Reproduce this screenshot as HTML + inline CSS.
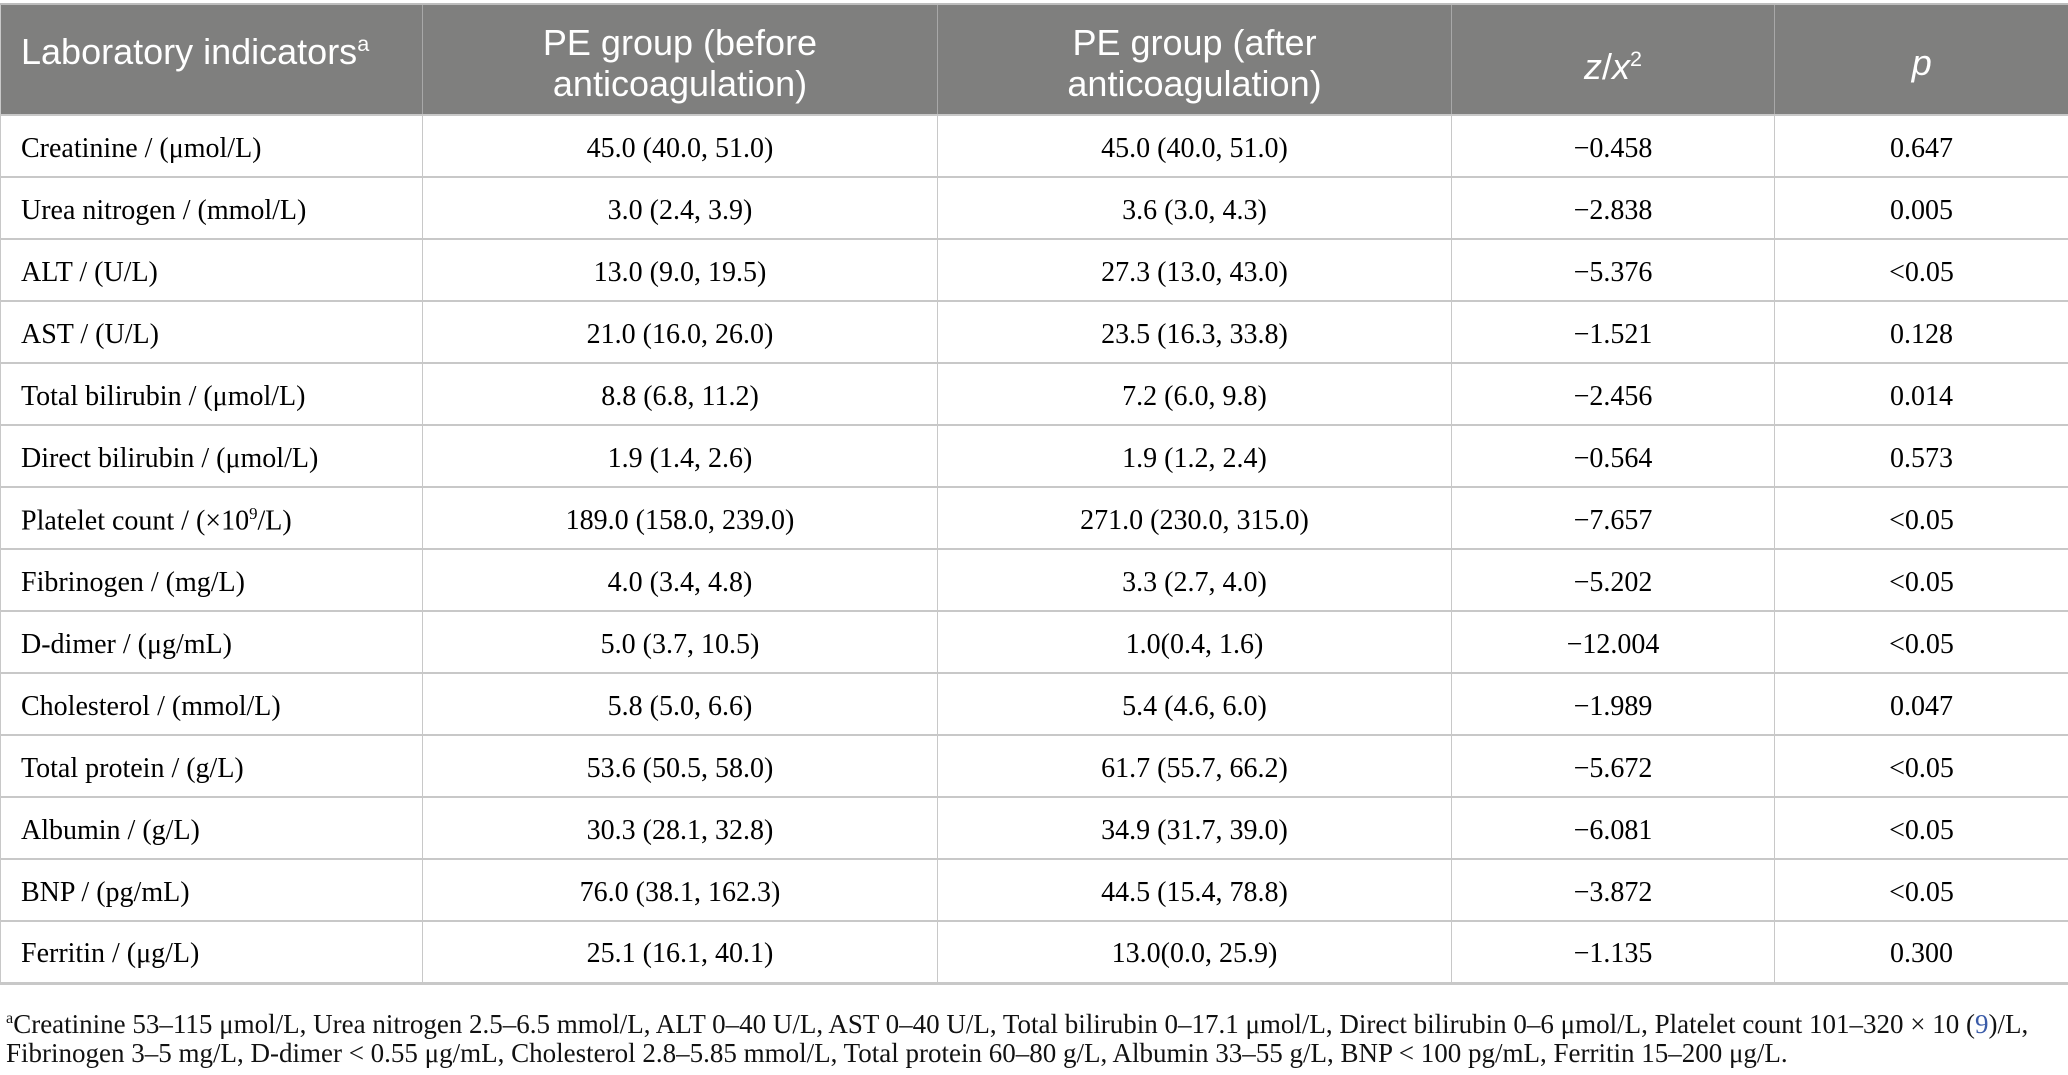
<!DOCTYPE html>
<html><head><meta charset="utf-8"><style>
body{margin:0;background:#fff;width:2068px;height:1075px;overflow:hidden;position:relative}
table{position:absolute;left:0;top:3px;width:2068px;border-collapse:collapse;table-layout:fixed}
th{box-sizing:border-box;background:#7f7f7e;color:#fff;font-family:"Liberation Sans",sans-serif;font-weight:normal;font-size:36px;line-height:41px;height:111px;border-left:1px solid #a8a8a8;border-top:2px solid #bdbdbd;padding:6px 6px 0;text-align:center}
th:first-child{text-align:left;padding-left:20px;vertical-align:top;padding-top:18px;border-left:1px solid #c8c8c8}
td{box-sizing:border-box;font-family:"Liberation Serif",serif;font-size:28px;height:62px;border:1px solid #c8c8c8;border-top:2px solid #c8c8c8;text-align:center;padding:5px 0 0}
td:first-child{text-align:left;padding-left:20px}
tr:last-child td{border-bottom:3px solid #c8c8c8}
sup{font-size:60%}
.fn{position:absolute;left:6px;top:1004px;font-family:"Liberation Serif",serif;font-size:27px;line-height:29px;color:#111;width:2060px;white-space:nowrap}
.blue{color:#3a5ba8}
</style></head><body>
<table>
<colgroup><col style="width:422px"><col style="width:515px"><col style="width:514px"><col style="width:323px"><col style="width:294px"></colgroup>
<tr><th>Laboratory indicators<sup>a</sup></th><th>PE group (before<br>anticoagulation)</th><th>PE group (after<br>anticoagulation)</th><th><i>z</i>/<i>x</i><sup>2</sup></th><th><i>p</i></th></tr>
<tr><td>Creatinine / (μmol/L)</td><td>45.0 (40.0, 51.0)</td><td>45.0 (40.0, 51.0)</td><td>−0.458</td><td>0.647</td></tr>
<tr><td>Urea nitrogen / (mmol/L)</td><td>3.0 (2.4, 3.9)</td><td>3.6 (3.0, 4.3)</td><td>−2.838</td><td>0.005</td></tr>
<tr><td>ALT / (U/L)</td><td>13.0 (9.0, 19.5)</td><td>27.3 (13.0, 43.0)</td><td>−5.376</td><td>&lt;0.05</td></tr>
<tr><td>AST / (U/L)</td><td>21.0 (16.0, 26.0)</td><td>23.5 (16.3, 33.8)</td><td>−1.521</td><td>0.128</td></tr>
<tr><td>Total bilirubin / (μmol/L)</td><td>8.8 (6.8, 11.2)</td><td>7.2 (6.0, 9.8)</td><td>−2.456</td><td>0.014</td></tr>
<tr><td>Direct bilirubin / (μmol/L)</td><td>1.9 (1.4, 2.6)</td><td>1.9 (1.2, 2.4)</td><td>−0.564</td><td>0.573</td></tr>
<tr><td>Platelet count / (×10<sup>9</sup>/L)</td><td>189.0 (158.0, 239.0)</td><td>271.0 (230.0, 315.0)</td><td>−7.657</td><td>&lt;0.05</td></tr>
<tr><td>Fibrinogen / (mg/L)</td><td>4.0 (3.4, 4.8)</td><td>3.3 (2.7, 4.0)</td><td>−5.202</td><td>&lt;0.05</td></tr>
<tr><td>D-dimer / (μg/mL)</td><td>5.0 (3.7, 10.5)</td><td>1.0(0.4, 1.6)</td><td>−12.004</td><td>&lt;0.05</td></tr>
<tr><td>Cholesterol / (mmol/L)</td><td>5.8 (5.0, 6.6)</td><td>5.4 (4.6, 6.0)</td><td>−1.989</td><td>0.047</td></tr>
<tr><td>Total protein / (g/L)</td><td>53.6 (50.5, 58.0)</td><td>61.7 (55.7, 66.2)</td><td>−5.672</td><td>&lt;0.05</td></tr>
<tr><td>Albumin / (g/L)</td><td>30.3 (28.1, 32.8)</td><td>34.9 (31.7, 39.0)</td><td>−6.081</td><td>&lt;0.05</td></tr>
<tr><td>BNP / (pg/mL)</td><td>76.0 (38.1, 162.3)</td><td>44.5 (15.4, 78.8)</td><td>−3.872</td><td>&lt;0.05</td></tr>
<tr><td>Ferritin / (μg/L)</td><td>25.1 (16.1, 40.1)</td><td>13.0(0.0, 25.9)</td><td>−1.135</td><td>0.300</td></tr>
</table>
<div class="fn"><sup>a</sup>Creatinine 53–115 μmol/L, Urea nitrogen 2.5–6.5 mmol/L, ALT 0–40 U/L, AST 0–40 U/L, Total bilirubin 0–17.1 μmol/L, Direct bilirubin 0–6 μmol/L, Platelet count 101–320 × 10 (<span class="blue">9</span>)/L,<br>Fibrinogen 3–5 mg/L, D-dimer &lt; 0.55 μg/mL, Cholesterol 2.8–5.85 mmol/L, Total protein 60–80 g/L, Albumin 33–55 g/L, BNP &lt; 100 pg/mL, Ferritin 15–200 μg/L.</div>
</body></html>
